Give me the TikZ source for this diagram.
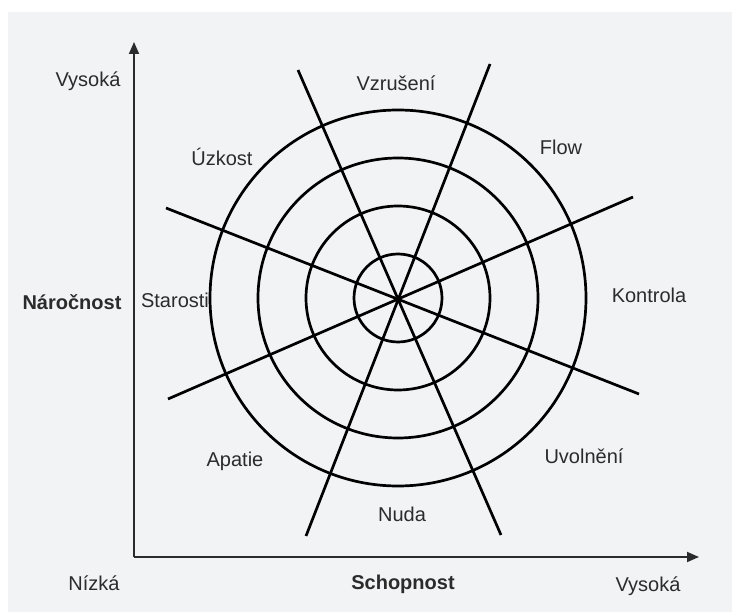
\documentclass[tikz,border=0pt]{standalone}
\usepackage{fontspec}
\setmainfont{Liberation Sans}
\usepackage{xcolor}
\usetikzlibrary{arrows.meta}

\definecolor{paperGray}{HTML}{F2F3F5}
\definecolor{inkGray}{HTML}{2B2B2B}

\begin{document}
\begin{tikzpicture}[
    x=1pt, y=-1pt,
    % ── lines ──
    ring/.style      = {draw=black, line width=2.7pt},
    spoke/.style     = {draw=black, line width=2.7pt},
    axisArr/.style   = {-{Triangle[length=12pt, width=10pt]},
                        line width=1.8pt, inkGray},
    % ── text styles ──
    zoneLabel/.style = {font=\fontsize{20}{23}\selectfont, text=inkGray,
                        inner sep=0pt},
    axisTitle/.style = {font=\fontsize{20}{23}\selectfont\bfseries,
                        text=inkGray, inner sep=0pt},
]

% =====================================================================
% Canvas
% =====================================================================
\useasboundingbox (0,0) rectangle (732,612);
\fill[white] (0,0) rectangle (732,612);
\fill[paperGray] (8,12) rectangle (732,612);

% =====================================================================
% Axes
% =====================================================================
\coordinate (origin) at (134,557);
\coordinate (yTip)   at (134,42);
\coordinate (xTip)   at (699,557);
\draw[axisArr] (origin) -- (yTip);
\draw[axisArr] (origin) -- (xTip);

% =====================================================================
% Rings   (centre 398,298)
% =====================================================================
\coordinate (hub) at (398,298);
\foreach \r in {44,92,140,188}{
  \draw[ring] (hub) circle (\r pt);
}

% =====================================================================
% Spokes
% =====================================================================
\coordinate (sA1) at (298,70);   \coordinate (sA2) at (501,535);
\coordinate (sB1) at (490,64);   \coordinate (sB2) at (306,536);
\coordinate (sC1) at (166,208);  \coordinate (sC2) at (639,394);
\coordinate (sD1) at (633,197);  \coordinate (sD2) at (168,399);
\foreach \s in {A,B,C,D}{
  \draw[spoke] (s\s1) -- (s\s2);
}

% =====================================================================
% Zone labels
% =====================================================================
\node[zoneLabel] (vzruseni) at (396,83)  {Vzrušení};
\node[zoneLabel] (flow)     at (561,147) {Flow};
\node[zoneLabel] (kontrola) at (649,295) {Kontrola};
\node[zoneLabel] (uvolneni) at (584,456) {Uvolnění};
\node[zoneLabel] (nuda)     at (402,514) {Nuda};
\node[zoneLabel] (apatie)   at (235,461) {Apatie};
\node[zoneLabel] (starosti) at (175,300) {Starosti};
\node[zoneLabel] (uzkost)   at (222,157) {Úzkost};

% =====================================================================
% Axis labels
% =====================================================================
\node[zoneLabel] (yHigh)  at (88,81)   {Vysoká};
\node[axisTitle] (yTitle) at (72,302)  {Náročnost};
\node[zoneLabel] (xLow)   at (94,583)  {Nízká};
\node[axisTitle] (xTitle) at (403,584) {Schopnost};
\node[zoneLabel] (xHigh)  at (648,586) {Vysoká};

\end{tikzpicture}
\end{document}
